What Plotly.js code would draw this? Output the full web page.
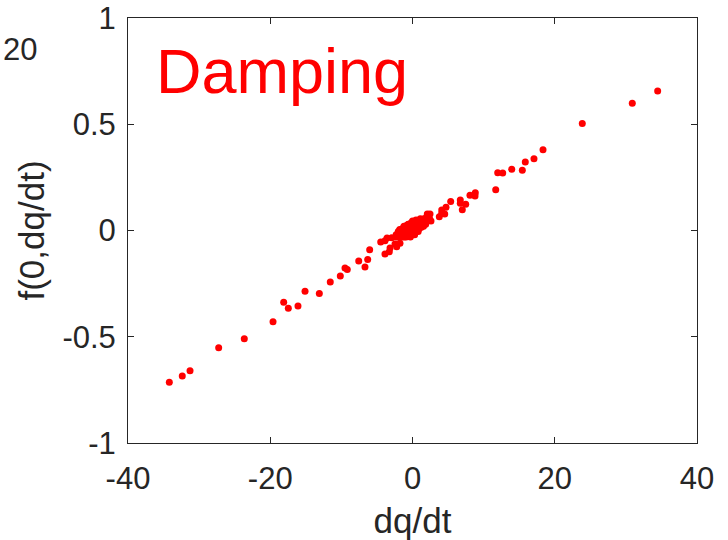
<!DOCTYPE html>
<html>
<head>
<meta charset="utf-8">
<script src="https://cdn.plot.ly/plotly-3.0.1.min.js"></script>
<style>html,body{margin:0;padding:0;background:#fff;}#chart{width:728px;height:540px;}</style>
</head>
<body>
<div id="chart"></div>
<script>
// Outer points (dq/dt, f(0,dq/dt))
var outerX = [-34.19, -32.37, -31.28, -27.25, -23.65, -19.61, -18.11, -17.46, -16.10, -15.11,
  -13.10, -11.56, -10.15, -9.49, -9.17, -7.56, -6.30, -6.68, -6.02, -3.87,
  -3.26, -4.47, -3.87, -2.92, -2.22, -2.46, -1.76, -3.58, -3.16,
  2.08, 2.46, 2.60, 3.77, 4.11, 4.11, 4.53, 4.71, 5.37, 6.72,
  6.72, 7.48, 7.00, 8.08, 8.79, 8.83, 11.70, 11.98, 12.68, 13.95,
  15.44, 15.86, 17.08, 18.35, 23.87, 30.90, 34.47];
var outerY = [-0.714, -0.685, -0.660, -0.552, -0.509, -0.429, -0.338, -0.366, -0.355, -0.286,
  -0.296, -0.242, -0.214, -0.176, -0.183, -0.144, -0.136, -0.172, -0.090, -0.111,
  -0.100, -0.054, -0.048, -0.034, -0.076, -0.064, -0.060, -0.035, -0.082,
  0.078, 0.078, 0.045, 0.065, 0.081, 0.096, 0.078, 0.109, 0.137, 0.144,
  0.128, 0.123, 0.098, 0.166, 0.162, 0.178, 0.192, 0.272, 0.271, 0.288,
  0.283, 0.322, 0.338, 0.380, 0.504, 0.599, 0.656];
// Dense cluster near the origin
var clusterX = [-2.3, -2.25, -2.0, -1.95, -2.05, -1.7, -1.75, -1.65, -1.4, -1.45, -1.35,
  -1.1, -1.15, -1.05, -1.0, -0.8, -0.85, -0.75, -0.8, -0.5, -0.55, -0.45, -0.5,
  -0.2, -0.25, -0.15, -0.2, 0.1, 0.05, 0.15, 0.1, 0.4, 0.35, 0.45, 0.4,
  0.7, 0.65, 0.75, 0.7, 1.0, 0.95, 1.05, 1.3, 1.25, 1.35, 1.6, 1.55, 1.65,
  1.9, 1.85, 1.95, 2.2, 2.15,
  -1.2, -0.6, 0.0, 0.5, -0.3, 0.3, 0.8, -0.9, 1.1, 1.6, -1.8, 2.0, 2.4];
var clusterY = [-0.020, -0.030, -0.005, -0.030, -0.018, 0.000, -0.030, -0.015, 0.010, -0.030, -0.010,
  0.015, -0.030, -0.005, 0.000, 0.025, -0.025, 0.000, -0.010, 0.030, -0.020, 0.005, 0.015,
  0.035, -0.020, 0.010, -0.005, 0.040, -0.020, 0.015, 0.000, 0.045, -0.010, 0.020, 0.005,
  0.045, 0.000, 0.025, 0.015, 0.050, 0.010, 0.030, 0.050, 0.015, 0.035, 0.050, 0.020, 0.035,
  0.055, 0.030, 0.045, 0.050, 0.060,
  0.020, 0.030, 0.045, 0.050, -0.030, -0.020, -0.005, -0.030, 0.055, 0.055, 0.005, 0.065, 0.055];

var xTicks = [-40, -20, 0, 20, 40];
var yTicks = [-1, -0.5, 0, 0.5, 1];

var red = '#ff0000';
var ink = '#262626';
var font = 'Liberation Sans, Arial, Helvetica, sans-serif';

var traces = [
  {x: outerX, y: outerY, type: 'scatter', mode: 'markers',
   marker: {color: red, size: 7, line: {width: 0}}, hoverinfo: 'skip'},
  {x: clusterX, y: clusterY, type: 'scatter', mode: 'markers',
   marker: {color: red, size: 7, line: {width: 0}}, hoverinfo: 'skip'}
];

var axisCommon = {
  showgrid: false, zeroline: false, showline: true, mirror: 'ticks',
  linecolor: ink, linewidth: 1, ticks: 'inside', ticklen: 6, tickwidth: 1, tickcolor: ink,
  tickfont: {family: font, size: 31, color: ink}
};

var layout = {
  width: 728, height: 540,
  margin: {l: 128, r: 31, t: 18, b: 97},
  paper_bgcolor: '#ffffff', plot_bgcolor: '#ffffff',
  showlegend: false,
  xaxis: Object.assign({}, axisCommon, {
    range: [-40, 40], tickmode: 'array', tickvals: xTicks,
    ticktext: xTicks.map(String), ticklabelstandoff: 8,
    title: {text: 'dq/dt', font: {family: font, size: 35, color: ink}, standoff: 15}
  }),
  yaxis: Object.assign({}, axisCommon, {
    range: [-1, 1], tickmode: 'array', tickvals: yTicks,
    ticktext: yTicks.map(String), ticklabelstandoff: 5,
    title: {text: 'f(0,dq/dt)', font: {family: font, size: 35, color: ink}, standoff: 7}
  }),
  annotations: [
    {text: 'Damping', xref: 'paper', yref: 'paper', x: 0.046, y: 0.788, xanchor: 'left', yanchor: 'bottom',
     showarrow: false, font: {family: font, size: 63, color: red}},
    {text: '20', xref: 'paper', yref: 'paper', x: -0.224, y: 0.925, xanchor: 'left', yanchor: 'middle',
     showarrow: false, font: {family: font, size: 31, color: ink}}
  ]
};

Plotly.newPlot('chart', traces, layout, {displayModeBar: false, staticPlot: true});
</script>
</body>
</html>
